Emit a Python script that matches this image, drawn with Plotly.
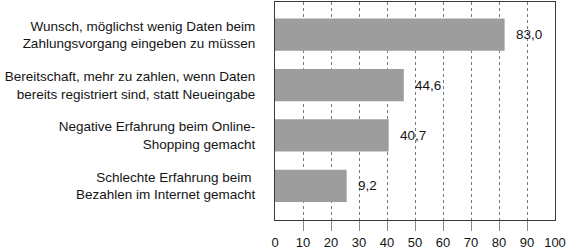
import plotly.graph_objects as go

categories = [
    "Wunsch, möglichst wenig Daten beim<br>Zahlungsvorgang eingeben zu müssen",
    "Bereitschaft, mehr zu zahlen, wenn Daten<br>bereits registriert sind, statt Neueingabe",
    "Negative Erfahrung beim Online-<br>Shopping gemacht",
    "Schlechte Erfahrung beim\u00a0<br>Bezahlen im Internet gemacht",
]
# bar lengths as drawn in the picture
bar_lengths = [82.0, 46.0, 40.6, 25.6]
# value labels as printed in the picture
value_labels = ["83,0", "44,6", "40,7", "9,2"]
x_ticks = [0, 10, 20, 30, 40, 50, 60, 70, 80, 90, 100]
inner_ticks = [10, 20, 30, 40, 50, 60, 70, 80, 90]

font = dict(family="Liberation Sans, Arial, sans-serif", size=13.5, color="#141414")
tick_font = dict(family="Liberation Sans, Arial, sans-serif", size=13, color="#141414")

fig = go.Figure()
fig.add_trace(go.Bar(
    x=bar_lengths, y=categories, orientation="h",
    marker=dict(color="#9d9d9d", line=dict(width=0)),
    width=0.64, hoverinfo="skip",
))
# invisible trace to activate second x axis for ticks
fig.add_trace(go.Scatter(x=[0], y=[categories[0]], xaxis="x2", mode="markers",
                         marker=dict(opacity=0), hoverinfo="skip", showlegend=False))

for xv, cat, lab in zip(bar_lengths, categories, value_labels):
    fig.add_annotation(x=xv, y=cat, text=lab, xanchor="left", yanchor="middle",
                       xshift=9, showarrow=False, font=font)

fig.update_layout(
    width=567, height=251,
    margin=dict(l=275, r=9, t=1, b=29),
    paper_bgcolor="white", plot_bgcolor="white",
    showlegend=False, font=font,
    xaxis=dict(range=[0, 100], tickvals=x_ticks, ticktext=[str(v) for v in x_ticks],
               showgrid=True, gridcolor="#7a7a7a", griddash="dot", gridwidth=1,
               showline=True, linecolor="#3a3a3a", linewidth=1, mirror=True,
               ticks="outside", ticklen=10, tickcolor="rgba(0,0,0,0)",
               ticklabeloverflow="allow",
               zeroline=False, fixedrange=True, tickfont=tick_font),
    xaxis2=dict(range=[0, 100], overlaying="x", anchor="y", side="bottom",
                tickvals=inner_ticks, showticklabels=False, showgrid=False,
                ticks="outside", ticklen=10, tickcolor="#8a8a8a", tickwidth=1,
                showline=False, zeroline=False, fixedrange=True),
    yaxis=dict(type="category", categoryorder="array", categoryarray=categories,
               range=[3.68, -0.65], showgrid=False,
               showline=True, linecolor="#3a3a3a", linewidth=1, mirror=True,
               ticks="outside", ticklen=16, tickcolor="rgba(0,0,0,0)",
               zeroline=False, fixedrange=True, tickfont=font),
)

fig.write_html("out.html")
